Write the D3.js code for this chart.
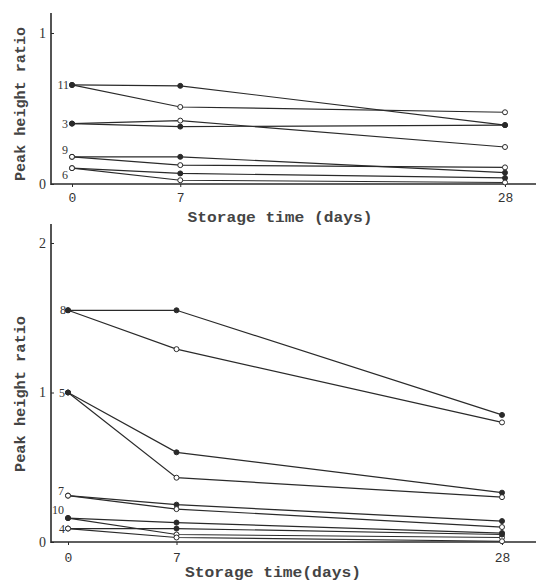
<!DOCTYPE html>
<html><head><meta charset="utf-8">
<script src="https://cdn.jsdelivr.net/npm/d3@7"></script>
<style>body{margin:0;background:#fff}svg{display:block}text{font-family:"Liberation Mono",monospace}</style>
</head><body><svg id="c" width="536" height="582"></svg>
<script>
// ---- data ----
const days = [0, 7, 28];
const dayTicks = [0, 7, 28];
const topYTicks = [0, 1];
const botYTicks = [0, 1, 2];
const yTitle = "Peak height ratio";
const topXTitle = "Storage time (days)";
const botXTitle = "Storage time(days)";

const topNames = ["11", "11", "3", "3", "9", "9", "6", "6"];
const topFilled = [true, false, true, false, true, false, true, false];
const s11f = [0.656, 0.65, 0.39];
const s11o = [0.656, 0.51, 0.475];
const s3f = [0.40, 0.38, 0.39];
const s3o = [0.40, 0.42, 0.245];
const s9f = [0.18, 0.18, 0.075];
const s9o = [0.18, 0.125, 0.11];
const s6f = [0.105, 0.07, 0.04];
const s6o = [0.105, 0.025, 0.01];

const botNames = ["8", "8", "5", "5", "7", "7", "10", "10", "4", "4"];
const botFilled = [true, false, true, false, true, false, true, false, true, false];
const s8f = [1.55, 1.55, 0.85];
const s8o = [1.55, 1.29, 0.80];
const s5f = [1.0, 0.60, 0.33];
const s5o = [1.0, 0.43, 0.30];
const s7f = [0.31, 0.25, 0.14];
const s7o = [0.31, 0.22, 0.10];
const s10f = [0.16, 0.13, 0.06];
const s10o = [0.16, 0.05, 0.03];
const s4f = [0.09, 0.09, 0.05];
const s4o = [0.09, 0.03, 0.005];

const topSeries = [s11f, s11o, s3f, s3o, s9f, s9o, s6f, s6o];
const botSeries = [s8f, s8o, s5f, s5o, s7f, s7o, s10f, s10o, s4f, s4o];

// ---- layout ----
const svg = d3.select("#c");
const ink = "#2a2a2a";

function panel(cfg) {
  const g = svg.append("g");
  const x = d3.scaleLinear().domain([0, 28]).range(cfg.xr);
  const y = d3.scaleLinear().domain(cfg.yd).range(cfg.yr);

  g.append("line").attr("x1", cfg.axX).attr("x2", cfg.axX)
    .attr("y1", cfg.axTop).attr("y2", y(0) + 1).attr("stroke", ink).attr("stroke-width", 1.6);
  g.append("line").attr("x1", cfg.axX).attr("x2", 536)
    .attr("y1", y(0)).attr("y2", y(0)).attr("stroke", ink).attr("stroke-width", 1.6);

  const ya = g.append("g").attr("transform", `translate(${cfg.axX},0)`)
    .call(d3.axisLeft(y).tickValues(cfg.yTicks).tickSize(-3).tickPadding(5).tickFormat(d3.format("d")));
  ya.select(".domain").remove();
  ya.selectAll("line").attr("stroke", ink);
  ya.selectAll("text").style("font-family", '"Liberation Serif",serif').style("font-size", "14px").attr("fill", "#333");

  const xa = g.append("g").attr("transform", `translate(0,${y(0)})`)
    .call(d3.axisBottom(x).tickValues(dayTicks).tickSize(3).tickPadding(cfg.xPad));
  xa.select(".domain").remove();
  xa.selectAll("line").attr("stroke", ink);
  xa.selectAll("text").style("font-family", '"Liberation Mono",monospace').style("font-size", "13px").attr("fill", "#333");

  const line = d3.line().x((d, i) => x(days[i])).y(d => y(d));
  cfg.series.forEach(s => {
    g.append("path").datum(s).attr("d", line).attr("fill", "none")
      .attr("stroke", ink).attr("stroke-width", 1.2);
  });
  // draw markers; at day 0 the shared marker style follows cfg.day0Filled
  const order = cfg.series.map((s, k) => k);
  order.forEach(k => {
    const s = cfg.series[k];
    g.selectAll(null).data(s).enter().append("circle")
      .attr("cx", (d, i) => x(days[i])).attr("cy", d => y(d)).attr("r", 2.5)
      .attr("fill", (d, i) => {
        const f = i === 0 ? cfg.day0Filled[cfg.names[k]] : cfg.filled[k];
        return f ? ink : "#fff";
      })
      .attr("stroke", ink).attr("stroke-width", 1);
  });

  const seen = new Set();
  cfg.names.forEach((n, k) => {
    if (seen.has(n)) return; seen.add(n);
    const off = cfg.labelOff[n] || [-5, 4];
    g.append("text").attr("x", x(0) + off[0]).attr("y", y(cfg.series[k][0]) + off[1])
      .attr("text-anchor", "end").style("font-family", '"Liberation Serif",serif')
      .style("font-size", "12px").attr("fill", "#333").text(n);
  });

  g.append("text").attr("transform", `translate(${cfg.yTitlePos[0]},${cfg.yTitlePos[1]}) rotate(-90)`)
    .attr("text-anchor", "middle").attr("textLength", cfg.yTitleLen).attr("lengthAdjust", "spacingAndGlyphs")
    .style("font-size", "14px").style("font-weight", "bold").attr("fill", "#444").text(yTitle);
  g.append("text").attr("x", cfg.xTitlePos[0]).attr("y", cfg.xTitlePos[1])
    .attr("text-anchor", "middle").attr("textLength", cfg.xTitleLen).attr("lengthAdjust", "spacingAndGlyphs")
    .style("font-size", "14px").style("font-weight", "bold").attr("fill", "#444").text(cfg.xTitle);
}

panel({
  xr: [72, 505], yd: [0, 1], yr: [184, 33], axX: 51, axTop: 13, xPad: 6,
  yTicks: topYTicks, series: topSeries, filled: topFilled, names: topNames,
  day0Filled: {"11": true, "3": true, "9": false, "6": false},
  labelOff: {"11": [-3, 4], "3": [-4, 4], "9": [-4, -3], "6": [-4, 11]},
  yTitlePos: [25, 104], yTitleLen: 154, xTitlePos: [280, 222], xTitleLen: 185, xTitle: topXTitle
});
panel({
  xr: [68, 502], yd: [0, 2], yr: [542, 243], axX: 51, axTop: 224, xPad: 8,
  yTicks: botYTicks, series: botSeries, filled: botFilled, names: botNames,
  day0Filled: {"8": true, "5": true, "7": false, "10": true, "4": false},
  labelOff: {"8": [-2, 4], "5": [-3, 4], "7": [-4, -1], "10": [-4, -4], "4": [-3, 4]},
  yTitlePos: [25, 394], yTitleLen: 156, xTitlePos: [273, 577], xTitleLen: 176, xTitle: botXTitle
});
</script></body></html>
